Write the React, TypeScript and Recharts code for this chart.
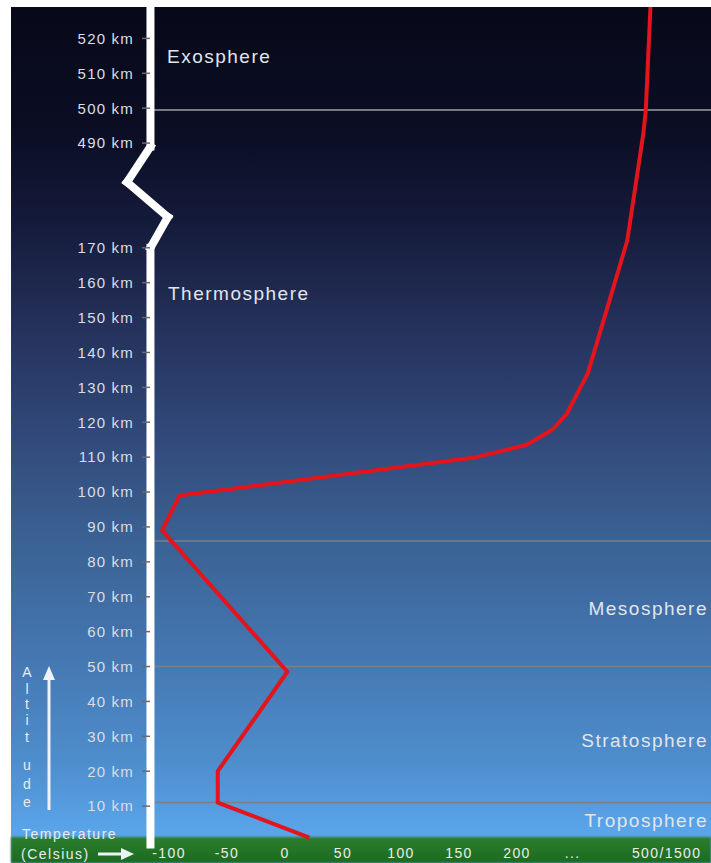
import React from 'react'
import { LineChart, Line, XAxis, YAxis, ReferenceLine } from 'recharts'

// axis units: altitude above 180 is shifted down by 290 km (axis break 170 -> 490 km)
// temperature past 200 is a break too ("..." then 500/1500)
const altitudes = [1, 11, 20, 48.5, 89, 99, 110, 113.5, 118, 122.5, 134, 172, 203, 209.5, 239]
const temperatures = [21, -58, -58, 2, -106, -91, 165, 208, 231, 243, 261, 295, 309, 311, 315]

const yTicks = [10, 20, 30, 40, 50, 60, 70, 80, 90, 100, 110, 120, 130, 140, 150, 160, 170, 200, 210, 220, 230]
const yLabels = ['10 km', '20 km', '30 km', '40 km', '50 km', '60 km', '70 km', '80 km', '90 km', '100 km', '110 km', '120 km', '130 km', '140 km', '150 km', '160 km', '170 km', '490 km', '500 km', '510 km', '520 km']

const xTicks = [-100, -50, 0, 50, 100, 150, 200, 248, 329]
const xLabels = ['-100', '-50', '0', '50', '100', '150', '200', '...', '500/1500']

// layer boundaries (axis units): tropopause, stratopause, mesopause, 500 km
const boundaries = [11, 50, 86, 209.5]

const layers = [
  { name: 'Exosphere', left: 167, top: 46 },
  { name: 'Thermosphere', left: 168, top: 283 },
  { name: 'Mesosphere', right: 3, top: 598 },
  { name: 'Stratosphere', right: 3, top: 730 },
  { name: 'Troposphere', right: 3, top: 810 },
]

const altitudeWord = ['A', 'l', 't', 'i', 't', 'u', 'd', 'e']
const letterTops = [664, 681, 696, 712, 729, 757, 776, 794]

const X_MIN = -116.4
const X_MAX = 367.2
const X_BAR = -116
const FONT = '"Liberation Sans", Arial, sans-serif'

const data = temperatures.map((t, i) => ({ temp: t, alt: altitudes[i] }))

// white axis bar with its zig-zag break
const barPath = [
  { x: X_BAR, y: -1 },
  { x: X_BAR, y: 170 },
  { x: -101, y: 178.8 },
  { x: -136.2, y: 188.8 },
  { x: X_BAR, y: 199 },
  { x: X_BAR, y: 240 },
]

export default function App() {
  return (
    <div style={{ position: 'absolute', left: 0, top: 0, width: 711, height: 863, background: '#fff', overflow: 'hidden', fontFamily: FONT }}>
      <div
        style={{
          position: 'absolute', left: 11, top: 7, width: 700, height: 856,
          background: 'linear-gradient(#070919 0%, #0b0e24 15%, #141a3a 25%, #222d55 35%, #31497a 50%, #3a6192 62%, #4476b0 75%, #4e8dcc 88%, #5ba6ec 97%)',
        }}
      />
      <div
        style={{
          position: 'absolute', left: 11, top: 837, width: 700, height: 26,
          background: 'linear-gradient(#2c7e2d, #1c6b20)', filter: 'blur(0.8px)',
        }}
      />

      <div style={{ position: 'absolute', left: 0, top: 0 }}>
        <LineChart width={711} height={863} data={data} margin={{ top: 7, right: 0, left: 0, bottom: 0 }}>
          <XAxis
            type="number"
            dataKey="temp"
            domain={[X_MIN, X_MAX]}
            allowDataOverflow
            ticks={xTicks}
            tickFormatter={(v) => xLabels[xTicks.indexOf(v)] ?? ''}
            tick={{ fill: '#e8eee8', fontSize: 14, letterSpacing: 1.4, fontFamily: FONT }}
            tickLine={false}
            axisLine={false}
            tickSize={0}
            tickMargin={7}
            height={22}
            interval={0}
          />
          <YAxis
            type="number"
            dataKey="alt"
            domain={[0, 239]}
            allowDataOverflow
            ticks={yTicks}
            tickFormatter={(v) => yLabels[yTicks.indexOf(v)] ?? ''}
            tick={{ fill: '#dcdde2', fontSize: 15, letterSpacing: 1.2, fontFamily: FONT }}
            tickLine={{ stroke: '#6a6a6a', strokeWidth: 1.5 }}
            axisLine={false}
            tickSize={8}
            tickMargin={8}
            width={150}
            interval={0}
          />
          {boundaries.map((b, i) => (
            <ReferenceLine key={b} y={b} stroke={i === 3 ? '#9c9ca0' : '#7a808a'} strokeWidth={1.5} />
          ))}
          {barPath.slice(1).map((p, i) => (
            <ReferenceLine
              key={'bar' + i}
              segment={[barPath[i], p]}
              stroke="#ffffff"
              strokeWidth={8}
              strokeLinecap="square"
              ifOverflow="visible"
            />
          ))}
          <Line
            type="linear"
            dataKey="alt"
            stroke="#e3141b"
            strokeWidth={4}
            dot={false}
            strokeLinejoin="round"
            isAnimationActive={false}
          />
        </LineChart>
      </div>

      {layers.map((l) => (
        <div
          key={l.name}
          style={{
            position: 'absolute', top: l.top, left: l.left, right: l.right,
            color: '#e2e5ec', fontSize: 19, letterSpacing: 1.5, lineHeight: '22px', whiteSpace: 'nowrap',
          }}
        >
          {l.name}
        </div>
      ))}

      {altitudeWord.map((c, i) => (
        <div
          key={i}
          style={{ position: 'absolute', left: 20, top: letterTops[i], width: 14, textAlign: 'center', color: '#e6ecf4', fontSize: 14, lineHeight: '16px' }}
        >
          {c}
        </div>
      ))}

      <div style={{ position: 'absolute', left: 22, top: 826, color: '#e6ecf4', fontSize: 14, letterSpacing: 1.5, lineHeight: '16px' }}>
        Temperature
      </div>
      <div style={{ position: 'absolute', left: 21, top: 846, color: '#e6ecf4', fontSize: 14, letterSpacing: 1.5, lineHeight: '16px' }}>
        (Celsius)
      </div>

      <svg width={711} height={863} style={{ position: 'absolute', left: 0, top: 0, pointerEvents: 'none' }}>
        <line x1={49} y1={810} x2={49} y2={678} stroke="#eef3fa" strokeWidth={3} />
        <polygon points="49,666 43,680 55,680" fill="#eef3fa" />
        <line x1={98} y1={854} x2={124} y2={854} stroke="#eef3fa" strokeWidth={3} />
        <polygon points="134,854 121,848 121,860" fill="#eef3fa" />
      </svg>
    </div>
  )
}
